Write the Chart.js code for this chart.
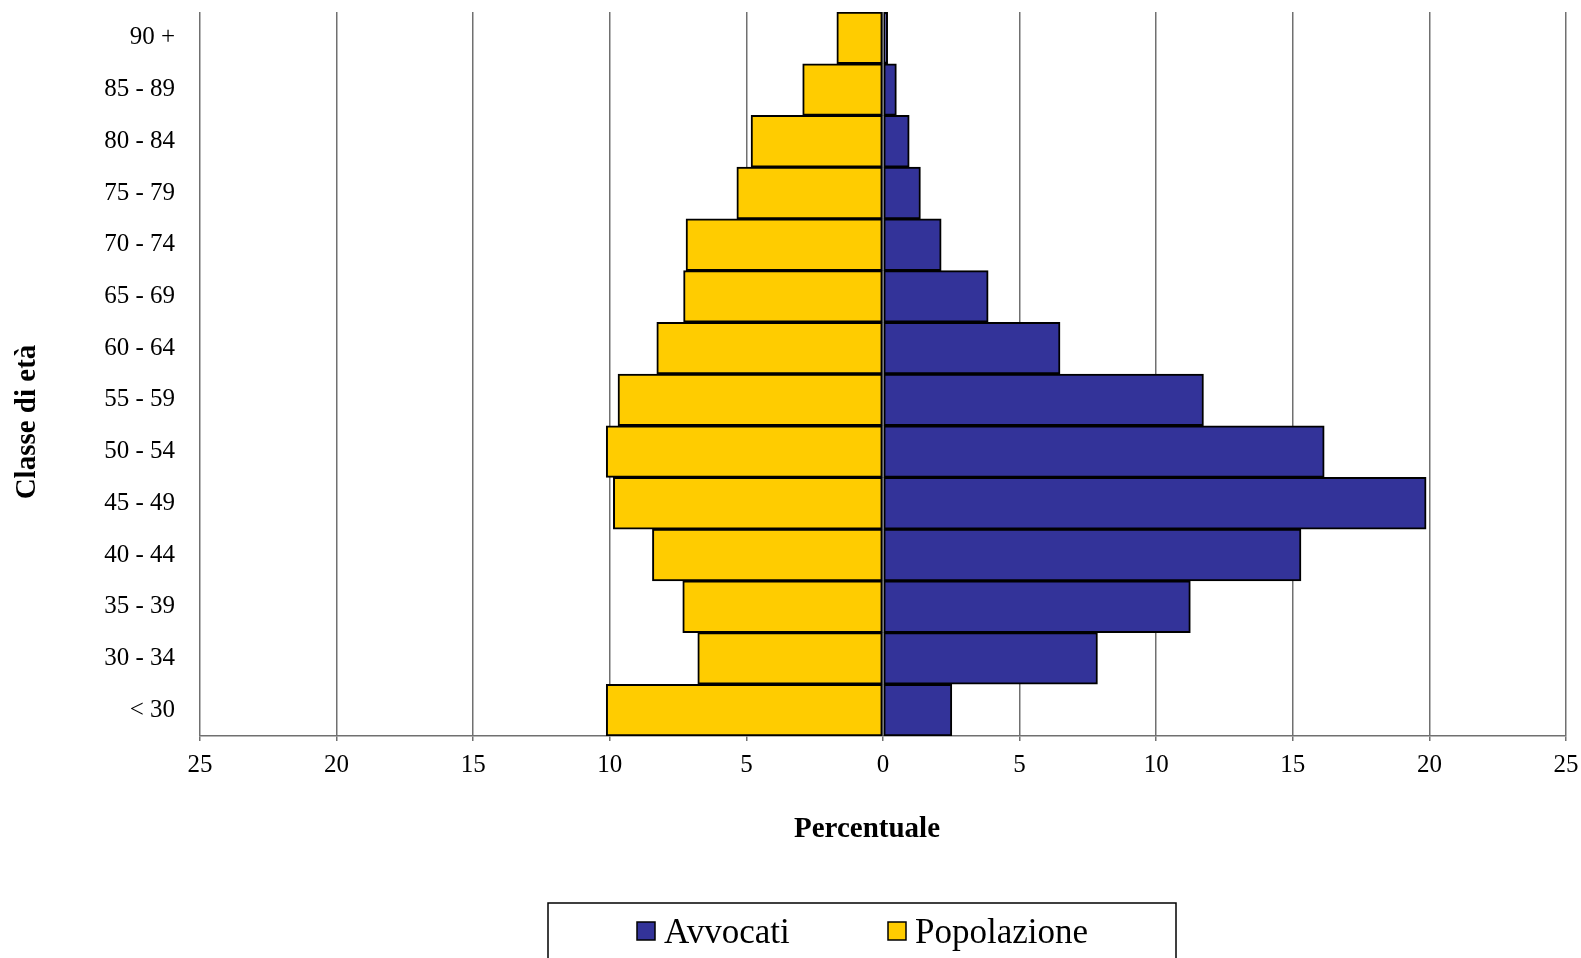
<!DOCTYPE html>
<html>
<head>
<meta charset="utf-8">
<title>Avvocati e popolazione per classe di età</title>
<script src="https://cdn.jsdelivr.net/npm/chart.js@4.4.1/dist/chart.umd.min.js"></script>
<style>
  html, body { margin: 0; padding: 0; background: #fff; }
  #wrap { width: 1581px; height: 958px; }
</style>
</head>
<body>
<div id="wrap"><canvas id="pyramid"></canvas></div>
<script>
// Age classes, top to bottom
const ageClasses = ['90 +', '85 - 89', '80 - 84', '75 - 79', '70 - 74', '65 - 69', '60 - 64',
  '55 - 59', '50 - 54', '45 - 49', '40 - 44', '35 - 39', '30 - 34', '< 30'];

// Percentages
const avvocati = [0.17, 0.49, 0.96, 1.37, 2.13, 3.85, 6.48, 11.73, 16.15, 19.88, 15.30, 11.25, 7.85, 2.52];
const popolazione = [1.69, 2.94, 4.83, 5.35, 7.21, 7.30, 8.28, 9.70, 10.13, 9.87, 8.44, 7.33, 6.78, 10.13];

const xTicks = [-25, -20, -15, -10, -5, 0, 5, 10, 15, 20, 25];

const xTitle = 'Percentuale';
const yTitle = 'Classe di età';

const SERIF = '"Liberation Serif", "Times New Roman", serif';

// axis titles + boxed legend, drawn like the spreadsheet original
const titlesAndLegend = {
  id: 'titlesAndLegend',
  afterDraw(chart) {
    const ctx = chart.ctx;
    const area = chart.chartArea;
    ctx.save();
    ctx.fillStyle = '#000';
    ctx.textAlign = 'center';
    ctx.textBaseline = 'middle';
    ctx.font = 'bold 29px ' + SERIF;
    ctx.fillText(xTitle, (area.left + area.right) / 2 - 16, 830);

    ctx.save();
    ctx.translate(28, 422);
    ctx.rotate(-Math.PI / 2);
    ctx.fillText(yTitle, 0, 0);
    ctx.restore();

    // legend frame
    ctx.strokeStyle = '#000';
    ctx.lineWidth = 1.5;
    ctx.strokeRect(548, 903, 628, 70);

    const starts = [637, 888];
    ctx.font = '35px ' + SERIF;
    ctx.textAlign = 'left';
    ctx.textBaseline = 'alphabetic';
    chart.data.datasets.forEach((ds, i) => {
      const x = starts[i];
      ctx.fillStyle = ds.backgroundColor;
      ctx.fillRect(x, 922, 18, 18);
      ctx.lineWidth = 1.5;
      ctx.strokeRect(x, 922, 18, 18);
      ctx.fillStyle = '#000';
      ctx.fillText(ds.label, x + 27, 943);
    });
    ctx.restore();
  }
};

new Chart(document.getElementById('pyramid'), {
  type: 'bar',
  data: {
    labels: ageClasses,
    datasets: [
      {
        label: 'Avvocati',
        data: avvocati,
        backgroundColor: '#333399',
      },
      {
        label: 'Popolazione',
        data: popolazione.map(v => -v),
        backgroundColor: '#FFCC00',
      },
    ],
  },
  options: {
    indexAxis: 'y',
    responsive: true,
    maintainAspectRatio: false,
    animation: false,
    layout: { padding: { top: 12, right: 15, left: 0, bottom: 0 } },
    datasets: {
      bar: {
        barPercentage: 1,
        categoryPercentage: 1,
        borderColor: '#000',
        borderWidth: 2,
        borderSkipped: false,
      },
    },
    plugins: {
      legend: { display: false },
      tooltip: { enabled: false },
    },
    scales: {
      x: {
        type: 'linear',
        stacked: true,
        min: -25,
        max: 25,
        afterBuildTicks: scale => { scale.ticks = xTicks.map(v => ({ value: v })); },
        afterFit: scale => {
          scale.height = 222;
          scale.paddingLeft = 0;
          scale.paddingRight = 0;
        },
        grid: { color: '#707070', lineWidth: 1.5, tickLength: 5, drawTicks: true },
        border: { display: true, color: '#707070', width: 1.5 },
        ticks: {
          color: '#000',
          padding: 9,
          font: { family: SERIF, size: 25 },
          callback: v => Math.abs(v),
        },
      },
      y: {
        stacked: true,
        afterFit: scale => {
          scale.width = 200;
          // don't let the label padding push the plot down
          scale.paddingTop = 0;
          scale.paddingBottom = 0;
        },
        grid: { display: false, drawTicks: false },
        border: { display: false },
        ticks: {
          color: '#000',
          padding: 25,
          font: { family: SERIF, size: 25 },
        },
      },
    },
  },
  plugins: [titlesAndLegend],
});
</script>
</body>
</html>
